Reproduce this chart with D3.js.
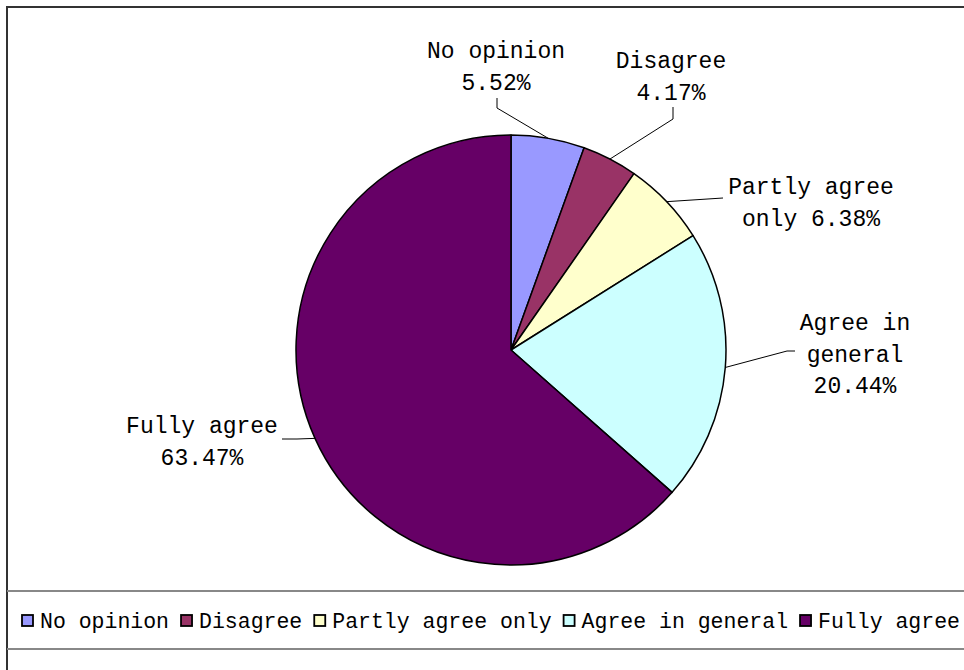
<!DOCTYPE html>
<html>
<head>
<meta charset="utf-8">
<script src="https://cdn.jsdelivr.net/npm/d3@7"></script>
<style>
  html, body { margin: 0; padding: 0; background: #fff; overflow: hidden; }
  text { font-family: "Liberation Mono", "DejaVu Sans Mono", monospace; fill: #000; }
</style>
</head>
<body>
<svg id="chart" width="964" height="670"></svg>
<script>
// ---- data ----
const categories = ["No opinion", "Disagree", "Partly agree only", "Agree in general", "Fully agree"];
const values = [5.52, 4.17, 6.38, 20.44, 63.47];
const colors = ["#9999FF", "#993366", "#FFFFCC", "#CCFFFF", "#660066"];
const labelLines = [
  ["No opinion", "5.52%"],
  ["Disagree", "4.17%"],
  ["Partly agree", "only 6.38%"],
  ["Agree in", "general", "20.44%"],
  ["Fully agree", "63.47%"]
];

// ---- layout ----
const W = 964, H = 670;
const cx = 511, cy = 350, R = 215;
const labelLayout = [
  { x: 496, y: [58, 90], leader: [[497, 98], [497, 108]] },
  { x: 671, y: [68, 100], leader: [[673, 107], [673, 119]] },
  { x: 811, y: [194, 226], leader: [[723, 198]] },
  { x: 855, y: [330, 362, 393], leader: [[795, 351], [787, 351]] },
  { x: 202, y: [433, 465], leader: [[282, 439], [297, 439]] }
];

const svg = d3.select("#chart");

// outer frame
svg.append("rect")
  .attr("x", 7).attr("y", 7)
  .attr("width", 1000).attr("height", 700)
  .attr("fill", "none").attr("stroke", "#333").attr("stroke-width", 2);

// pie
const pie = d3.pie().sort(null).value(d => d);
const arcs = pie(values);
const arc = d3.arc().innerRadius(0).outerRadius(R);
const color = d3.scaleOrdinal().domain(categories).range(colors);

const g = svg.append("g").attr("transform", `translate(${cx},${cy})`);
g.selectAll("path")
  .data(arcs)
  .join("path")
  .attr("d", arc)
  .attr("fill", (d, i) => color(categories[i]))
  .attr("stroke", "#000")
  .attr("stroke-width", 1.5)
  .attr("stroke-linejoin", "round");

// leader lines
arcs.forEach((d, i) => {
  const a = (d.startAngle + d.endAngle) / 2;
  const edge = [cx + R * Math.sin(a), cy - R * Math.cos(a)];
  const pts = labelLayout[i].leader.concat([edge]);
  svg.append("path")
    .attr("d", d3.line()(pts))
    .attr("fill", "none")
    .attr("stroke", "#000")
    .attr("stroke-width", 1);
});

// labels
labelLines.forEach((lines, i) => {
  const L = labelLayout[i];
  lines.forEach((t, j) => {
    svg.append("text")
      .attr("x", L.x).attr("y", L.y[j])
      .attr("text-anchor", "middle")
      .attr("font-size", 23)
      .text(t);
  });
});

// legend box lines
svg.append("line").attr("x1", 7).attr("x2", W + 10).attr("y1", 591).attr("y2", 591)
  .attr("stroke", "#888").attr("stroke-width", 2);
svg.append("line").attr("x1", 7).attr("x2", W + 10).attr("y1", 649).attr("y2", 649)
  .attr("stroke", "#888").attr("stroke-width", 2);

// legend items
const legendFont = 21.5;
let lx = 22;
const ly = 621;
categories.forEach((c, i) => {
  svg.append("rect")
    .attr("x", lx).attr("y", ly - 6)
    .attr("width", 11).attr("height", 11)
    .attr("fill", colors[i]).attr("stroke", "#000").attr("stroke-width", 1.8);
  const t = svg.append("text")
    .attr("x", lx + 18).attr("y", ly + 7)
    .attr("font-size", legendFont)
    .text(c);
  const w = t.node().getComputedTextLength();
  lx = lx + 18 + w + 12;
});
</script>
</body>
</html>
